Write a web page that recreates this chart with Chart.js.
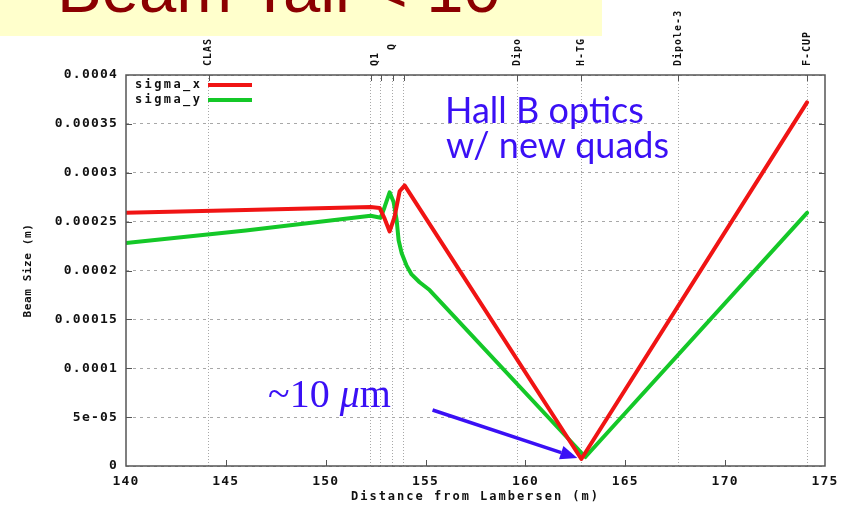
<!DOCTYPE html>
<html>
<head>
<meta charset="utf-8">
<script src="https://cdn.jsdelivr.net/npm/chart.js@4.4.1/dist/chart.umd.min.js"></script>
<style>
  html, body { margin: 0; padding: 0; background: #fff; }
  #wrap { position: relative; width: 855px; height: 507px; overflow: hidden; }
  #chart { position: absolute; left: 0; top: 0; }
  #banner { position: absolute; left: 0; top: 0; width: 602px; height: 36px; background: #ffffcc; overflow: hidden; }
  #banner span { position: absolute; left: 57px; top: -45px; font: 67px/67px "Liberation Sans", Arial, sans-serif; color: #8b0000; white-space: nowrap; }
</style>
</head>
<body>
<div id="wrap">
  <canvas id="chart" width="855" height="507"></canvas>
  <div id="banner"><span>Beam Tail &lt; 10</span></div>
</div>
<script>
// Beam size along the beamline (m) versus distance from Lambertson (m)
const sigmaXPos = [140, 146, 152.25, 152.7, 152.95, 153.2, 153.45, 153.7, 153.95, 162.8, 174.1];
const sigmaX    = [0.000259, 0.000262, 0.000265, 0.000264, 0.000253, 0.00024, 0.000255, 0.000281, 0.000287, 0.0000072, 0.000372];

const sigmaYPos = [140, 146, 152.25, 152.75, 152.95, 153.2, 153.4, 153.55, 153.65, 153.8, 154.05, 154.3, 154.7, 155.2, 163.0, 174.1];
const sigmaY    = [0.000228, 0.000241, 0.000256, 0.000254, 0.000265, 0.00028, 0.00027, 0.000252, 0.000231, 0.000218, 0.000205, 0.000196, 0.000188, 0.00018, 0.0000092, 0.000259];

// Axis ticks
const xTickValues = [140, 145, 150, 155, 160, 165, 170, 175];
const yTickValues = [0, 0.00005, 0.0001, 0.00015, 0.0002, 0.00025, 0.0003, 0.00035, 0.0004];
const yTickLabels = ['0', '5e-05', '0.0001', '0.00015', '0.0002', '0.00025', '0.0003', '0.00035', '0.0004'];

// Beamline elements (vertical marker lines) and their names on the top axis
const elementPos = [144.15, 152.25, 152.75, 153.35, 153.9, 159.6, 162.8, 167.65, 174.1];
const elementNames = ['CLAS', 'Q1', 'Q', 'Dipo.', 'H-TG', 'Dipole-3', 'F-CUP'];
const elementNameAt = [144.15, 152.5, 153.35, 159.6, 162.8, 167.65, 174.1];

// Arrow pointing at the waist: [distance, beam size]
const arrowFrom = [155.35, 0.0000573];
const arrowTo = [162.6, 0.0000082];

const RED = '#f01414';
const GREEN = '#14c828';
const BLUE = '#3a10f5';
const MONO = '"DejaVu Sans Mono", monospace';

function pts(xs, ys) { return xs.map((x, i) => ({ x: x, y: ys[i] })); }

const decor = {
  id: 'decor',
  beforeDraw(chart) {
    chart.ctx.letterSpacing = '1.2px';
  },
  afterDraw(chart) {
    const ctx = chart.ctx;
    const a = chart.chartArea;
    const xs = chart.scales.x, ys = chart.scales.y;
    ctx.save();

    // frame
    ctx.strokeStyle = '#555';
    ctx.lineWidth = 1.5;
    ctx.strokeRect(a.left, a.top, a.right - a.left, a.bottom - a.top);

    // inward tick marks
    ctx.lineWidth = 1;
    ctx.beginPath();
    xTickValues.slice(1, -1).forEach(v => {
      const px = Math.round(xs.getPixelForValue(v)) + 0.5;
      ctx.moveTo(px, a.bottom); ctx.lineTo(px, a.bottom - 6);
    });
    yTickValues.slice(1, -1).forEach(v => {
      const py = Math.round(ys.getPixelForValue(v)) + 0.5;
      ctx.moveTo(a.left, py); ctx.lineTo(a.left + 6, py);
      ctx.moveTo(a.right, py); ctx.lineTo(a.right - 6, py);
    });
    elementPos.forEach(v => {
      const px = Math.round(xs.getPixelForValue(v)) + 0.5;
      ctx.moveTo(px, a.top); ctx.lineTo(px, a.top + 6);
    });
    ctx.stroke();

    // element names, rotated, along the top
    ctx.fillStyle = '#111';
    ctx.font = 'bold 10px ' + MONO;
    ctx.letterSpacing = '1px';
    ctx.textAlign = 'left';
    ctx.textBaseline = 'middle';
    elementNames.forEach((name, i) => {
      const px = xs.getPixelForValue(elementNameAt[i]);
      const base = name === 'Q' ? a.top - 25 : a.top - 9;
      ctx.save();
      ctx.translate(px, base);
      ctx.rotate(-Math.PI / 2);
      ctx.fillText(name, 0, 0);
      ctx.restore();
    });

    // legend
    ctx.font = 'bold 12px ' + MONO;
    ctx.letterSpacing = '2.4px';
    [['sigma_x', RED, 85], ['sigma_y', GREEN, 100]].forEach(([t, c, y]) => {
      ctx.fillStyle = '#111';
      ctx.textAlign = 'left';
      ctx.fillText(t, a.left + 9, y);
      ctx.strokeStyle = c;
      ctx.lineWidth = 4;
      ctx.beginPath();
      ctx.moveTo(a.left + 82, y); ctx.lineTo(a.left + 126, y);
      ctx.stroke();
    });

    // axis titles
    ctx.fillStyle = '#111';
    ctx.font = 'bold 12px ' + MONO;
    ctx.letterSpacing = '2px';
    ctx.textAlign = 'center';
    ctx.fillText('Distance from Lambersen (m)', (a.left + a.right) / 2, 497);
    ctx.font = 'bold 11px ' + MONO;
    ctx.letterSpacing = '0.6px';
    ctx.save();
    ctx.translate(28, (a.top + a.bottom) / 2);
    ctx.rotate(-Math.PI / 2);
    ctx.fillText('Beam Size (m)', 0, 0);
    ctx.restore();

    // annotations
    ctx.letterSpacing = '0px';
    ctx.fillStyle = BLUE;
    ctx.textAlign = 'left';
    ctx.textBaseline = 'alphabetic';
    ctx.font = '36px Lato, "Open Sans", sans-serif';
    ctx.fillText('Hall B optics', 445, 123);
    ctx.fillText('w/ new quads', 446, 158);

    ctx.font = '40px "Liberation Serif", serif';
    let tx = 268;
    ctx.fillText('~10 ', tx, 407);
    tx += ctx.measureText('~10 ').width;
    ctx.font = 'italic 40px "Liberation Serif", serif';
    ctx.fillText('\u03bc', tx, 407);
    tx += ctx.measureText('\u03bc').width;
    ctx.font = '40px "Liberation Serif", serif';
    ctx.fillText('m', tx, 407);

    // arrow
    const x0 = xs.getPixelForValue(arrowFrom[0]), y0 = ys.getPixelForValue(arrowFrom[1]);
    const x1 = xs.getPixelForValue(arrowTo[0]), y1 = ys.getPixelForValue(arrowTo[1]);
    const ang = Math.atan2(y1 - y0, x1 - x0);
    const hl = 17, hw = 7;
    const bx = x1 - hl * Math.cos(ang), by = y1 - hl * Math.sin(ang);
    ctx.strokeStyle = BLUE;
    ctx.lineWidth = 3.5;
    ctx.beginPath();
    ctx.moveTo(x0, y0); ctx.lineTo(bx, by);
    ctx.stroke();
    ctx.beginPath();
    ctx.moveTo(x1, y1);
    ctx.lineTo(bx + hw * Math.sin(ang), by - hw * Math.cos(ang));
    ctx.lineTo(bx - hw * Math.sin(ang), by + hw * Math.cos(ang));
    ctx.closePath();
    ctx.fillStyle = BLUE;
    ctx.fill();

    ctx.restore();
    ctx.letterSpacing = '1.2px';
  }
};

new Chart(document.getElementById('chart'), {
  type: 'scatter',
  data: {
    datasets: [
      { label: 'sigma_x', data: pts(sigmaXPos, sigmaX), showLine: true, borderColor: RED, backgroundColor: RED,
        borderWidth: 4, pointRadius: 0, tension: 0, borderJoinStyle: 'round', borderCapStyle: 'round' },
      { label: 'sigma_y', data: pts(sigmaYPos, sigmaY), showLine: true, borderColor: GREEN, backgroundColor: GREEN,
        borderWidth: 4, pointRadius: 0, tension: 0, borderJoinStyle: 'round', borderCapStyle: 'round' }
    ]
  },
  options: {
    responsive: false,
    animation: false,
    devicePixelRatio: 1,
    layout: { padding: { left: 0, right: 30, top: 0, bottom: 0 } },
    plugins: { legend: { display: false }, tooltip: { enabled: false } },
    scales: {
      x: {
        type: 'linear', position: 'bottom', min: 140, max: 175,
        afterBuildTicks: s => { s.ticks = xTickValues.map(v => ({ value: v })); },
        afterFit: s => { s.height = 41; },
        grid: { display: false },
        border: { display: false },
        ticks: { color: '#111', padding: 0, maxRotation: 0, font: { family: MONO, size: 13, weight: 'bold' } }
      },
      x2: {
        type: 'linear', position: 'top', min: 140, max: 175,
        afterBuildTicks: s => { s.ticks = elementPos.map(v => ({ value: v })); },
        afterFit: s => { s.height = 75; },
        grid: { color: '#a8a8a8', lineWidth: 1, drawTicks: false },
        border: { display: false, dash: [1, 2] },
        ticks: { display: false }
      },
      y: {
        type: 'linear', position: 'left', min: 0, max: 0.0004,
        afterBuildTicks: s => { s.ticks = yTickValues.map(v => ({ value: v })); },
        afterFit: s => { s.width = 126; },
        grid: { color: '#a8a8a8', lineWidth: 1, drawTicks: false },
        border: { display: false, dash: [3, 4] },
        ticks: { color: '#111', padding: 8, font: { family: MONO, size: 13, weight: 'bold' },
                 callback: (v, i) => yTickLabels[i] }
      }
    }
  },
  plugins: [decor]
});
</script>
</body>
</html>
